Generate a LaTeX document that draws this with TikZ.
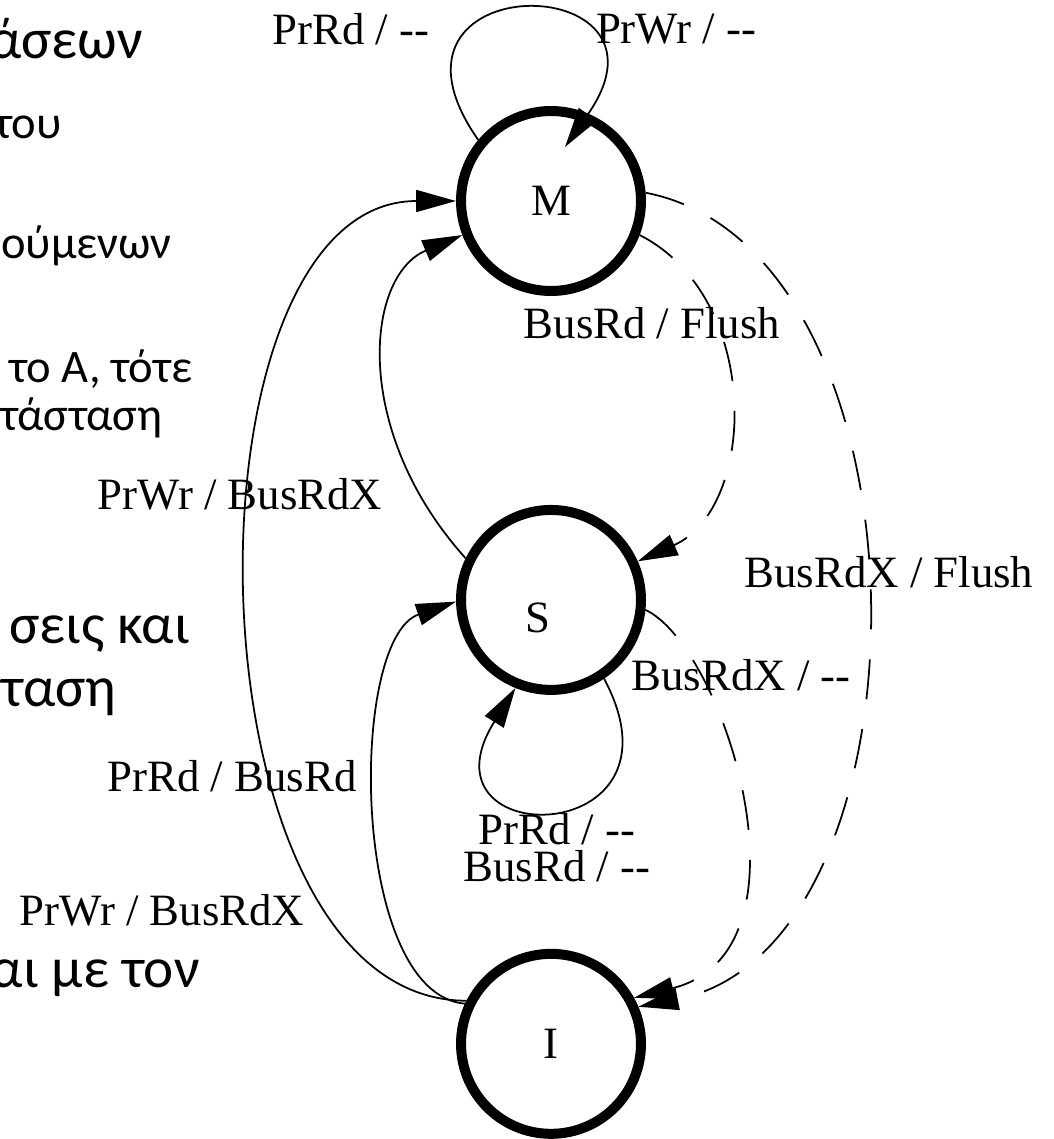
\documentclass[tikz,border=0pt]{standalone}
\usepackage{fontspec}
\setmainfont{Liberation Serif}
\newfontfamily\grfont{Carlito}
\usetikzlibrary{arrows.meta,calc}
\newcommand\twohy{\mbox{-}\mbox{-}}

\begin{document}
\begin{tikzpicture}[x=0.02cm,y=-0.02cm,node distance=8cm,
    state/.style={circle,draw,line width=2mm,minimum size=3.6cm,inner sep=0pt,font=\fontsize{25.5}{30}\selectfont},
    trans/.style={line width=1pt,-{Triangle[length=8mm,width=4.4mm]}},
    snoop/.style={trans,dash pattern=on 8mm off 6mm},
    lbl/.style={font=\fontsize{25.5}{21}\selectfont,align=center,inner sep=0pt},
    grbig/.style={font=\grfont\fontsize{32.5}{38}\selectfont,anchor=base east,inner sep=0pt},
    grsmall/.style={font=\grfont\fontsize{26.5}{31}\selectfont,anchor=base east,inner sep=0pt}]
    \useasboundingbox (0,0) rectangle (1054,1139);
    % slide text cut off on the left
    \node[grbig] (g1) at (143,58) {άσεων};
    \node[grsmall] (g2) at (62,138) {του};
    \node[grsmall] (g3) at (172,258) {ούμενων};
    \node[grsmall] (g4) at (193,382) {το A, τότε};
    \node[grsmall] (g5) at (163,430) {τάσταση};
    \node[grbig] (g6) at (190,643) {σεις και};
    \node[grbig] (g7) at (117,706) {σταση};
    \node[grbig] (g8) at (200,987) {αι με τον};
    % states
    \node[state] (M) at (551,201) {M};
    \node[state,label={[font=\fontsize{25.5}{30}\selectfont,xshift=-2.6mm,yshift=-3.6mm]center:S}] (S) [below of=M, node distance=7.98cm] {};
    \node[state] (I) [below of=S, node distance=8.88cm] {I};
    \coordinate (Mtip) at ($(M.center)+(14,-54)$);
    % processor and bus transitions
    \path[trans]
    (M.140) edge[out=125,in=55,out distance=4.29cm,in distance=4.4cm] (Mtip)
    (S.154) edge[out=132,in=203,out distance=3.41cm,in distance=2.12cm] (M.201)
    (I.153) edge[out=180,in=180,out distance=5.7cm,in distance=5.66cm] (M.180)
    (I.155) edge[out=175,in=199,out distance=2.31cm,in distance=2.29cm] (S.181)
    (S.304) edge[out=-62,in=238,out distance=3.9cm,in distance=3.9cm] (S.248);
    \path[snoop]
    (M.339) edge[out=-27,in=24,out distance=2.76cm,in distance=2.62cm] (S.24)
    (M.5) edge[out=-11,in=11,out distance=6.01cm,in distance=6.17cm] (I.23)
    (S.354) edge[out=-25,in=14,out distance=1.73cm,in distance=3.86cm] (I.29);
    % labels
    \node[lbl] (lPrRdM) at (351,29) {PrRd / \twohy};
    \node[lbl] (lPrWrM) at (676,29) {PrWr / \twohy};
    \node[lbl] (lBusRdM) at (652,323) {BusRd / Flush};
    \node[lbl] (lPrWrS) at (240,494) {PrWr / BusRdX};
    \node[lbl] (lBusRdXM) at (889,572) {BusRdX / Flush};
    \node[lbl] (lBusRdXS) at (741,675) {BusRdX / \twohy};
    \node[lbl] (lPrRdI) at (232,776) {PrRd / BusRd};
    \node[lbl] (lS) at (557,848) {PrRd / \twohy\\BusRd / \twohy};
    \node[lbl] (lPrWrI) at (162,910) {PrWr / BusRdX};
\end{tikzpicture}
\end{document}
